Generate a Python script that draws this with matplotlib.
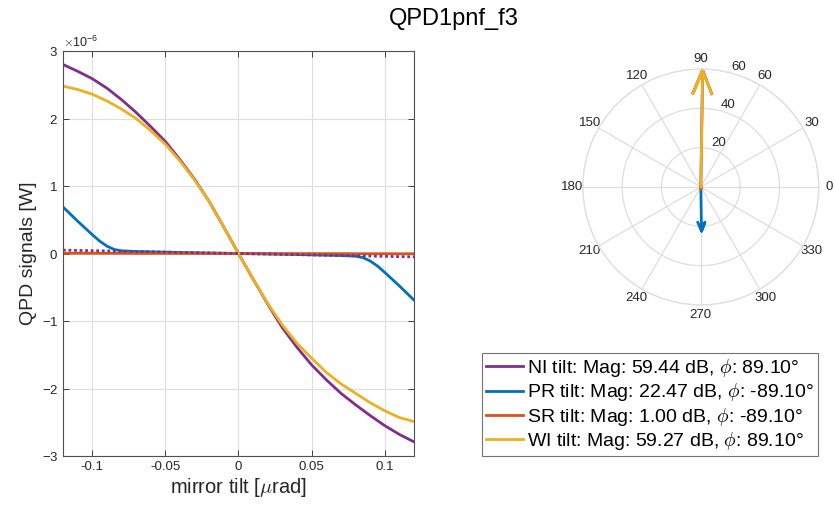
import numpy as np
import matplotlib
matplotlib.use("Agg")
from matplotlib import pyplot as plt

plt.rcParams['font.family'] = ['Liberation Sans', 'DejaVu Sans']
plt.rcParams['axes.unicode_minus'] = False
plt.rcParams['mathtext.fontset'] = 'cm'

# mirror tilt [urad]
tilt = [-0.12, -0.11, -0.10, -0.09, -0.08, -0.07, -0.06, -0.05, -0.04, -0.03, -0.02, -0.01,
        0.0, 0.01, 0.02, 0.03, 0.04, 0.05, 0.06, 0.07, 0.08, 0.09, 0.10, 0.11, 0.12]

# QPD signals, units of 1e-6 W
ni_sig = [2.80, 2.70, 2.59, 2.45, 2.28, 2.09, 1.88, 1.66, 1.39, 1.10, 0.77, 0.39,
          0.0, -0.38, -0.75, -1.10, -1.39, -1.65, -1.87, -2.07, -2.24, -2.40, -2.55, -2.68, -2.79]
sr_sig = [0.004, 0.004, 0.003, 0.003, 0.003, 0.002, 0.002, 0.002, 0.001, 0.001, 0.001, 0.0,
          0.0, 0.0, -0.001, -0.001, -0.001, -0.002, -0.002, -0.002, -0.003, -0.003, -0.003, -0.004, -0.004]
wi_sig = [2.48, 2.43, 2.36, 2.26, 2.14, 2.00, 1.82, 1.62, 1.37, 1.09, 0.77, 0.39,
          0.0, -0.38, -0.74, -1.06, -1.33, -1.55, -1.76, -1.93, -2.07, -2.21, -2.33, -2.43, -2.49]
ni_lin = [0.050, 0.046, 0.042, 0.038, 0.033, 0.029, 0.025, 0.021, 0.017, 0.013, 0.008, 0.004,
          0.0, -0.004, -0.008, -0.013, -0.017, -0.021, -0.025, -0.029, -0.033, -0.038, -0.042, -0.046, -0.050]

# PR has a sharper bend near the ends, so it is read on a denser grid there
pr_tilt = [-0.12, -0.115, -0.11, -0.105, -0.10, -0.095, -0.09, -0.085, -0.08, -0.07, -0.04,
           0.0, 0.04, 0.07, 0.08, 0.085, 0.09, 0.095, 0.10, 0.105, 0.11, 0.115, 0.12]
pr_sig = [0.69, 0.585, 0.48, 0.38, 0.28, 0.185, 0.11, 0.06, 0.04, 0.03, 0.015,
          0.0, -0.015, -0.03, -0.04, -0.06, -0.11, -0.185, -0.28, -0.38, -0.48, -0.585, -0.69]

names = ['NI', 'PR', 'SR', 'WI']
mags = [59.44, 22.47, 1.00, 59.27]       # dB
phases = [89.10, -89.10, -89.10, 89.10]  # deg

colors = ['#7E2F8E', '#0072BD', '#D95319', '#EDB120']
axis_col = '#262626'
grid_col = '#dedede'

fig = plt.figure(figsize=(8.35, 5.09), dpi=100)

# left: signals vs tilt
ax = fig.add_axes([0.0754, 0.1041, 0.4204, 0.7957])
x = np.array(tilt)
ax.plot(x, np.array(ni_sig) * 1e-6, color=colors[0], lw=2.0)
ax.plot(pr_tilt, np.array(pr_sig) * 1e-6, color=colors[1], lw=2.0)
ax.plot(x, np.array(sr_sig) * 1e-6, color=colors[2], lw=2.0)
ax.plot(x, np.array(wi_sig) * 1e-6, color=colors[3], lw=2.0)
ax.plot(x, np.array(ni_lin) * 1e-6, color=colors[0], lw=2.0, ls=(0, (1, 1)))

ax.set_xlim(-0.12, 0.12)
ax.set_ylim(-3e-6, 3e-6)
ax.set_xticks([-0.1, -0.05, 0, 0.05, 0.1])
ax.set_xticklabels(['-0.1', '-0.05', '0', '0.05', '0.1'])
ax.set_yticks(np.arange(-3, 4) * 1e-6)
ax.ticklabel_format(axis='y', style='sci', scilimits=(0, 0), useMathText=True)
ax.yaxis.get_offset_text().set_fontsize(9)
ax.yaxis.get_offset_text().set_color('#404040')
ax.grid(True, color=grid_col, lw=0.8)
ax.set_axisbelow(True)
ax.tick_params(direction='in', top=True, right=True, labelsize=9.5,
               colors=axis_col, length=4, width=0.6)
for sp in ax.spines.values():
    sp.set_color('#505050')
    sp.set_linewidth(0.8)
ax.set_xlabel(r'mirror tilt [$\mu$rad]', fontsize=14.5, color=axis_col, labelpad=2)
ax.set_ylabel('QPD signals [W]', fontsize=14, color=axis_col, labelpad=3)

# right: compass plot
pax = fig.add_axes([0.698, 0.4008, 0.2826, 0.4637], projection='polar')
pax.set_rlim(0, 60)
pax.set_rticks([20, 40, 60])
pax.set_rlabel_position(75)
pax.set_thetagrids(range(0, 360, 30), [str(a) for a in range(0, 360, 30)])
pax.grid(True, color=grid_col, lw=0.9)
pax.spines['polar'].set_color(grid_col)
pax.spines['polar'].set_linewidth(0.9)
pax.tick_params(axis='x', labelsize=9.5, colors=axis_col, pad=-3)
pax.tick_params(axis='y', labelsize=9.5, colors=axis_col)

handles = []
for name, mag, ph, col in zip(names, mags, phases, colors):
    z = mag * np.exp(1j * np.deg2rad(ph))
    pts = np.array([0, 1, 0.8 + 0.08j, 1, 0.8 - 0.08j]) * z
    h, = pax.plot(np.angle(pts), np.abs(pts), color=col, lw=2.0,
                  label=f'{name} tilt: Mag: {mag:.2f} dB, $\\phi$: {ph:.2f}°')
    handles.append(h)

leg = fig.legend(handles=handles, loc='upper left', bbox_to_anchor=(0.577, 0.306),
                 fontsize=14, frameon=True, fancybox=False, handlelength=1.9,
                 handletextpad=0.25, labelspacing=0.12, borderpad=0.2, borderaxespad=0)
leg.get_frame().set_edgecolor('#505050')
leg.get_frame().set_linewidth(0.8)

fig.text(0.543, 0.962, 'QPD1pnf_f3', ha='center', va='center', fontsize=17, color='black')

fig.savefig('out.png', dpi=100)
